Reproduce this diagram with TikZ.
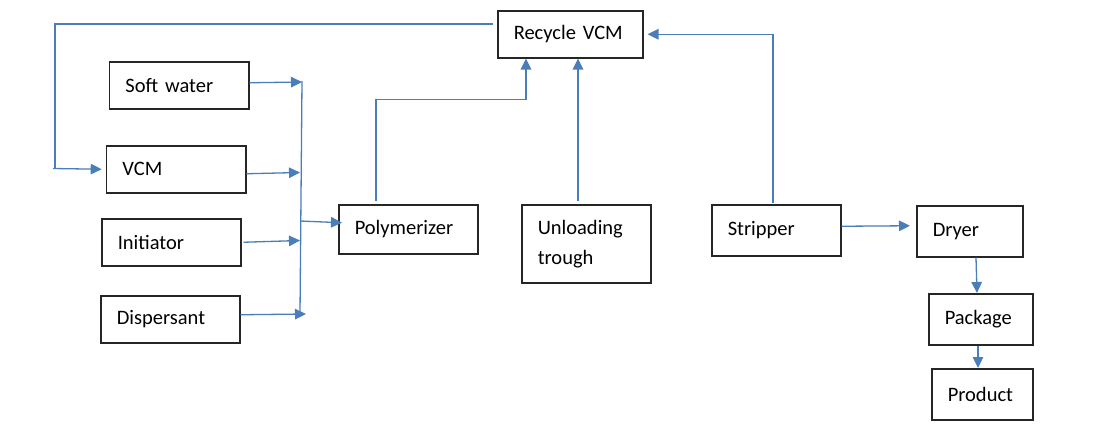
\documentclass[tikz,border=0pt]{standalone}
\usepackage{fontspec}
\setmainfont{Carlito}
\usetikzlibrary{arrows.meta,calc}
\definecolor{flowblue}{HTML}{4A7EBB}
\definecolor{boxline}{HTML}{262626}
\tikzset{
  box/.style={draw=boxline, line width=1.5pt, anchor=north west, inner xsep=16pt, inner ysep=0pt,
    align=left, font=\fontsize{20.5}{30}\selectfont, text=black},
  flow/.style={draw=flowblue, line width=1.3pt},
  flowarrow/.style={flow, -{Triangle[length=11pt,width=10.5pt]}},
}
\newcommand{\mybox}[7]{% name, x1, y1, x2, y2, text
  \node[box, minimum width={#4-#2}, minimum height={#5-#3}, text width={#4-#2-32}] (#1) at (#2,#3) {#6};}
\begin{document}
\begin{tikzpicture}[x=1pt,y=-1pt]
\useasboundingbox (0,0) rectangle (1111,434);
\fill[white] (0,0) rectangle (1111,434);

\mybox{rec}{497}{10}{642}{57}{Recycle VCM}{}
\mybox{soft}{108.7}{61}{248}{108}{Soft water}{}
\mybox{vcm}{105.7}{145}{245}{192}{VCM}{}
\mybox{init}{101}{218}{240}{265}{Initiator}{}
\mybox{disp}{100}{295}{239}{342}{Dispersant}{}
\mybox{poly}{338}{204}{477}{253}{Polymerizer}{}
\mybox{unl}{521}{204}{650}{282}{Unloading\\trough}{}
\mybox{strip}{711}{204}{840}{255}{Stripper}{}
\mybox{dryer}{916}{205}{1022}{256}{Dryer}{}
\mybox{pack}{928}{293}{1032}{344}{Package}{}
\mybox{prod}{931}{368}{1032}{419}{Product}{}

% recycle back to VCM
\coordinate (fbA) at ($(rec.north west)+(-4,14)$);
\coordinate (fbB) at (55,24);
\coordinate (fbC) at (55,168.5);
\draw[flow] (fbA) -- (fbB) -- (fbC);
\draw[flowarrow] (53,168.5) -- ([xshift=-4pt]vcm.west);

% collector line
\coordinate (colT) at (302,81);
\coordinate (colB) at (300,314);
\draw[flow] (colT) -- (colB);
\draw[flowarrow] ($(soft.east)+(0,-2.5)$) -- (302,82);
\draw[flowarrow] ($(vcm.east)+(0,4.5)$) -- (300,172.5);
\draw[flowarrow] ($(init.east)+(2,0)$) -- (300,240.5);
\draw[flowarrow] ($(disp.east)+(0,-4.5)$) -- (306,314);
\draw[flowarrow] (300,221) -- ($(poly.west)+(4,-6.5)$);

% polymerizer to recycle
\coordinate (pA) at ($(poly.north west)+(38,-3)$);
\coordinate (pB) at ($(rec.south west)+(29,41)$);
\draw[flow] (pA) |- (pB);
\draw[flowarrow] (pB) -- (pB |- rec.south);

% unloading trough to recycle
\coordinate (uA) at ($(unl.north west)+(57,-3)$);
\draw[flowarrow] (uA) -- (uA |- rec.south);

% stripper to recycle
\coordinate (sA) at ($(strip.north west)+(62,-1)$);
\draw[flowarrow] (sA) |- ([xshift=4pt]rec.east);

% stripper to dryer
\draw[flowarrow] ($(strip.east)+(0,-4)$) -- ($(dryer.west)+(-6,-5.5)$);

% dryer to package
\draw[flowarrow] ($(dryer.south west)+(60,0)$) -- ($(pack.north west)+(49,0)$);

% package to product
\coordinate (pp) at ($(pack.south west)+(50,0)$);
\draw[flowarrow] (pp) -- (pp |- prod.north);
\end{tikzpicture}
\end{document}
